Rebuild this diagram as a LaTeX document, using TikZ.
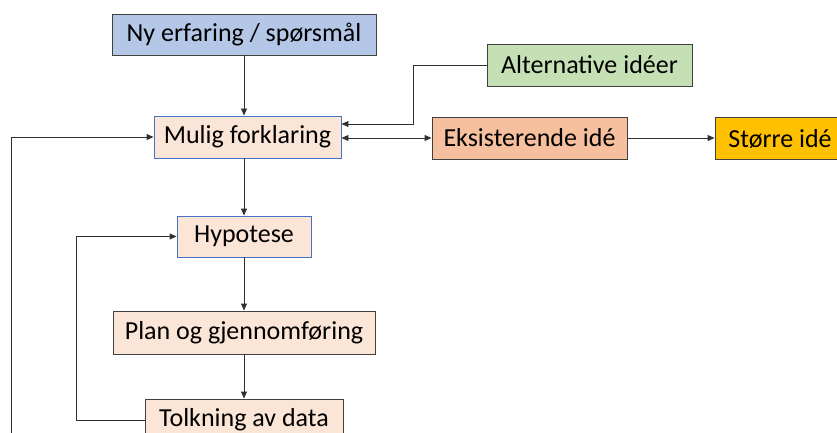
\documentclass[tikz,border=0pt]{standalone}
\usepackage{fontspec}
\setmainfont{Carlito}
\usetikzlibrary{arrows.meta}
\definecolor{boxgray}{HTML}{404040}
\definecolor{linegray}{HTML}{303030}
\definecolor{bluebd}{HTML}{4472C4}
\definecolor{nyblue}{HTML}{B4C7E7}
\definecolor{peach}{HTML}{FBE5D6}
\definecolor{altgreen}{HTML}{C5E0B4}
\definecolor{eksorange}{HTML}{F6C09E}
\definecolor{gold}{HTML}{FFC000}
\begin{document}
\begin{tikzpicture}[x=1pt,y=-1pt,
  box/.style={draw=boxgray, line width=0.9pt, minimum height=42pt, inner sep=0pt,
    font=\fontsize{26}{30}\selectfont, text=black},
  arr/.style={-{Triangle[length=7pt,width=6pt]}, line width=0.9pt, draw=linegray},
  darr/.style={{Triangle[length=7pt,width=6pt]}-{Triangle[length=7pt,width=6pt]}, line width=0.9pt, draw=linegray}]
\useasboundingbox (0,0) rectangle (837,433);
\clip (0,0) rectangle (837,433);

\node[box, fill=nyblue, minimum width=264pt, minimum height=41pt] (ny) at (244,34.5) {Ny erfaring / spørsmål};
\node[box, fill=peach, draw=bluebd, minimum width=187pt] (mulig) at (247.5,137) {Mulig forklaring};
\node[box, fill=altgreen, minimum width=205pt] (alt) at (589.5,65) {Alternative idéer};
\node[box, fill=eksorange, minimum width=195pt] (eks) at (529.5,138) {Eksisterende idé};
\node[box, fill=gold, minimum width=130pt] (storre) at (780,138.5) {Større idé};
\node[box, fill=peach, draw=bluebd, minimum width=134pt, minimum height=41pt] (hyp) at (244,236.5) {Hypotese};
\node[box, fill=peach, minimum width=262pt, minimum height=43pt] (plan) at (244,332.5) {Plan og gjennomføring};
\node[box, fill=peach, minimum width=198pt] (tolk) at (244,420) {Tolkning av data};

\coordinate (bl) at (11,445);

\draw[arr] (ny.south) -- (ny.south |- mulig.north);
\draw[arr] (alt.west) -- ++(-73,0) |- ([yshift=13pt]mulig.east);
\draw[darr] (eks.west -| mulig.east) -- (eks.west);
\draw[arr] (eks.east) -- (eks.east -| storre.west);
\draw[arr] (bl) |- (mulig.west);
\draw[arr] (mulig.south -| hyp.north) -- (hyp.north);
\draw[arr] (hyp.south) -- (plan.north);
\draw[arr] (plan.south) -- (tolk.north);
\draw[arr] (tolk.west) -- ++(-68,0) |- (hyp.west);
\end{tikzpicture}
\end{document}
